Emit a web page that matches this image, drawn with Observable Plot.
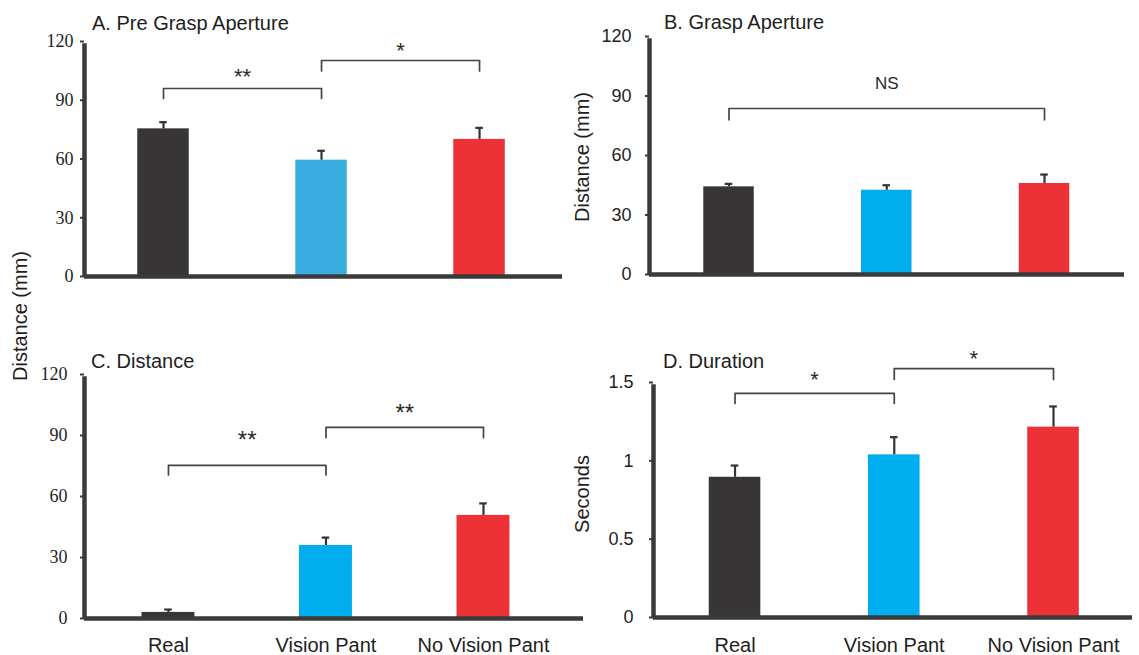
<!DOCTYPE html>
<html>
<head>
<meta charset="utf-8">
<script src="https://cdn.jsdelivr.net/npm/d3@7"></script>
<script src="https://cdn.jsdelivr.net/npm/@observablehq/plot@0.6"></script>
<style>
  body { margin: 0; background: #fff; }
  #fig { position: relative; width: 1139px; height: 655px; background: #fff; overflow: hidden;
         font-family: "Liberation Sans", Arial, sans-serif; color: #1e1e1e; }
  .panel { position: absolute; }
  .title { position: absolute; font-size: 20px; line-height: 24px; white-space: nowrap; }
  .ylab { position: absolute; font-size: 20px; line-height: 24px; white-space: nowrap;
          transform: translate(-50%, -50%) rotate(-90deg); }
</style>
</head>
<body>
<div id="fig"></div>
<script>
// Experimental conditions (x categories)
const conditions = ["Real", "Vision Pant", "No Vision Pant"];

// A. Pre grasp aperture (mm): mean and error
const preGraspMean = [75.4, 59.4, 70.0];
const preGraspErr  = [3.4, 4.8, 5.9];
// B. Grasp aperture (mm)
const graspMean = [44.2, 42.5, 45.9];
const graspErr  = [1.5, 2.5, 4.5];
// C. Distance (mm)
const distanceMean = [3.0, 35.9, 50.7];
const distanceErr  = [1.4, 3.9, 5.9];
// D. Duration (s)
const durationMean = [0.895, 1.038, 1.215];
const durationErr  = [0.075, 0.113, 0.132];

// y tick values
const ticksMm  = [0, 30, 60, 90, 120];
const ticksSec = [0, 0.5, 1, 1.5];

// significance brackets: condition pairs, bracket height, leg end, label, label height
const preGraspPairs  = [[0, 1], [1, 2]];
const preGraspTop    = [96.0, 110.3];
const preGraspLeg    = [90.9, 105.0];
const preGraspLabels = ["**", "*"];
const preGraspLabelY = [105.2, 118.0];

const graspPairs  = [[0, 2]];
const graspTop    = [83.7];
const graspLeg    = [78.0];
const graspLabels = ["NS"];
const graspLabelY = [96.3];

const distancePairs  = [[0, 1], [1, 2]];
const distanceTop    = [75.3, 94.0];
const distanceLeg    = [70.6, 89.0];
const distanceLabels = ["**", "**"];
const distanceLabelY = [91.0, 104.3];

const durationPairs  = [[0, 1], [1, 2]];
const durationTop    = [1.43, 1.589];
const durationLeg    = [1.366, 1.519];
const durationLabels = ["*", "*"];
const durationLabelY = [1.557, 1.69];

const DARK = "#383536", RED = "#ec3237";
const AXIS = "#3a3a3a";
const SANS = "'Liberation Sans', Arial, sans-serif";
const SERIF = "'Liberation Serif', 'Times New Roman', serif";

function drawPanel(cfg) {
  const bars = conditions.map((c, i) => ({i, c, v: cfg.mean[i], e: cfg.err[i], fill: cfg.colors[i]}));
  const bracketPts = cfg.pairs.flatMap(([a, b], k) => [
    {k, x: a, y: cfg.leg[k]}, {k, x: a, y: cfg.top[k]},
    {k, x: b, y: cfg.top[k]}, {k, x: b, y: cfg.leg[k]}
  ]);
  const bracketText = cfg.pairs.map(([a, b], k) => ({x: (a + b) / 2, y: cfg.labelY[k], t: cfg.labels[k]}));
  const cap = cfg.capHalf;

  const marks = [
    Plot.rectY(bars, {x1: d => d.i - cfg.barHalf, x2: d => d.i + cfg.barHalf, y1: 0, y2: "v", fill: "fill"}),
    Plot.ruleX(bars, {x: "i", y1: "v", y2: d => d.v + d.e, stroke: "#333", strokeWidth: 2.2}),
    Plot.ruleY(bars, {y: d => d.v + d.e, x1: d => d.i - cap, x2: d => d.i + cap, stroke: "#333", strokeWidth: 2.2}),
    Plot.line(bracketPts, {x: "x", y: "y", z: "k", stroke: "#444", strokeWidth: 1.7}),
    Plot.text(bracketText, {x: "x", y: "y", text: "t", fontSize: cfg.sigSize, fontFamily: SANS, dy: cfg.sigDy, fill: "#2a2a2a"}),
    Plot.ruleY([0], {stroke: AXIS, strokeWidth: 4.5}),
    Plot.ruleX([cfg.xDomain[0]], {y1: cfg.yDomain[0], y2: cfg.yDomain[1], stroke: AXIS, strokeWidth: 4.5, insetBottom: -2.2}),
    Plot.axisY({ticks: cfg.yTicks, tickFormat: d => String(d), tickSize: 4, tickPadding: cfg.tickPadding,
                stroke: AXIS, strokeWidth: 2, label: null, fontSize: cfg.tickSize, fontFamily: cfg.tickFont})
  ];
  if (cfg.showX) {
    marks.push(Plot.axisX({ticks: [0, 1, 2], tickFormat: i => conditions[i], tickSize: 0, tickPadding: cfg.xPad,
                           label: null, fontSize: 20, fontFamily: SANS}));
  }

  const svg = Plot.plot({
    width: cfg.width, height: cfg.height,
    marginLeft: cfg.m[0], marginRight: cfg.m[1], marginTop: cfg.m[2], marginBottom: cfg.m[3],
    x: {domain: cfg.xDomain, axis: cfg.showX ? undefined : null},
    y: {domain: cfg.yDomain},
    color: {type: "identity"},
    style: {background: "transparent", color: "#1e1e1e", fontFamily: cfg.tickFont, fontSize: cfg.tickSize + "px", overflow: "visible"},
    marks
  });
  svg.classList.add("panel");
  svg.style.left = cfg.left + "px";
  svg.style.top = cfg.top0 + "px";
  svg.style.maxWidth = "none";
  return svg;
}

const fig = document.getElementById("fig");

fig.append(drawPanel({
  left: 0, top0: 0, width: 570, height: 300, m: [84, 8, 41, 24],
  xDomain: [-0.5, 2.525], yDomain: [0, 120], yTicks: ticksMm,
  mean: preGraspMean, err: preGraspErr, colors: [DARK, "#3aade1", RED],
  barHalf: 0.163, capHalf: 0.024,
  pairs: preGraspPairs, top: preGraspTop, leg: preGraspLeg, labels: preGraspLabels, labelY: preGraspLabelY,
  sigSize: 22, sigDy: 6, tickFont: SERIF, tickSize: 18, tickPadding: 7, showX: false
}));

fig.append(drawPanel({
  left: 570, top0: 0, width: 569, height: 300, m: [79, 15, 36, 26],
  xDomain: [-0.504, 2.507], yDomain: [0, 120], yTicks: ticksMm,
  mean: graspMean, err: graspErr, colors: [DARK, "#00aeef", RED],
  barHalf: 0.16, capHalf: 0.024,
  pairs: graspPairs, top: graspTop, leg: graspLeg, labels: graspLabels, labelY: graspLabelY,
  sigSize: 17, sigDy: 0, tickFont: SANS, tickSize: 18, tickPadding: 14, showX: false
}));

fig.append(drawPanel({
  left: 0, top0: 330, width: 590, height: 325, m: [84, 7, 44, 37],
  xDomain: [-0.533, 2.635], yDomain: [0, 120], yTicks: ticksMm,
  mean: distanceMean, err: distanceErr, colors: [DARK, "#00aeef", RED],
  barHalf: 0.168, capHalf: 0.024,
  pairs: distancePairs, top: distanceTop, leg: distanceLeg, labels: distanceLabels, labelY: distanceLabelY,
  sigSize: 24, sigDy: 6.5, tickFont: SERIF, tickSize: 18, tickPadding: 13, showX: true, xPad: 19
}));

fig.append(drawPanel({
  left: 570, top0: 330, width: 569, height: 325, m: [83, 7, 52, 38],
  xDomain: [-0.512, 2.496], yDomain: [0, 1.5], yTicks: ticksSec,
  mean: durationMean, err: durationErr, colors: [DARK, "#00aeef", RED],
  barHalf: 0.162, capHalf: 0.024,
  pairs: durationPairs, top: durationTop, leg: durationLeg, labels: durationLabels, labelY: durationLabelY,
  sigSize: 22, sigDy: 6, tickFont: SANS, tickSize: 18, tickPadding: 16, showX: true, xPad: 20
}));

// panel titles and y-axis titles
const texts = [
  {cls: "title", text: "A. Pre Grasp Aperture", left: 92, top: 11},
  {cls: "title", text: "B. Grasp Aperture", left: 664, top: 10},
  {cls: "title", text: "C. Distance", left: 91, top: 349},
  {cls: "title", text: "D. Duration", left: 663, top: 349},
  {cls: "ylab", text: "Distance (mm)", left: 20, top: 316},
  {cls: "ylab", text: "Distance (mm)", left: 582, top: 157},
  {cls: "ylab", text: "Seconds", left: 582, top: 494}
];
for (const t of texts) {
  const el = document.createElement("div");
  el.className = t.cls;
  el.textContent = t.text;
  el.style.left = t.left + "px";
  el.style.top = t.top + "px";
  fig.append(el);
}
</script>
</body>
</html>
